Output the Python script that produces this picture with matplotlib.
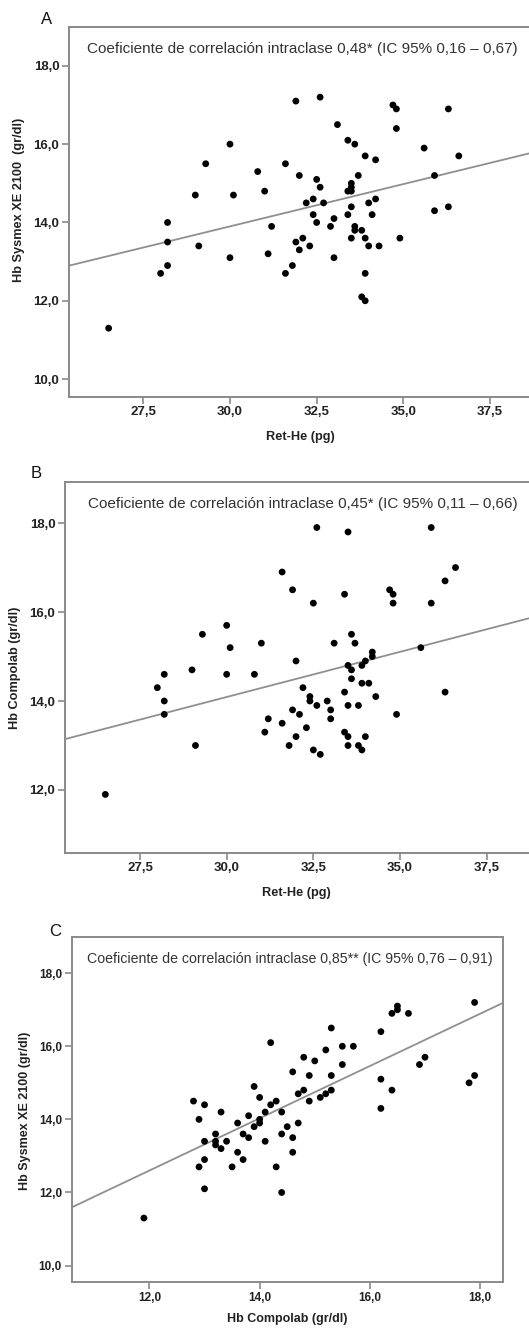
import numpy as np
import matplotlib
matplotlib.use("Agg")
import matplotlib.pyplot as plt
from matplotlib.ticker import FixedLocator, FuncFormatter

plt.rcParams['font.family'] = ['Liberation Sans', 'DejaVu Sans']

# ---------------- data ----------------
# Panel A: Ret-He (pg) vs Hb Sysmex XE 2100 (gr/dl)
retA = [31.9, 32.6, 33.1, 34.7, 34.8, 34.8, 36.3, 30.0, 33.4, 33.6,
        35.6, 33.9, 34.2, 36.6, 29.3, 31.6, 30.8, 32.0, 35.9, 33.7,
        32.5, 32.6, 33.5, 33.5, 33.4, 33.5, 29.0, 30.1, 31.0, 32.2,
        32.4, 32.7, 33.5, 34.0, 34.2, 35.9, 36.3, 32.4, 33.0, 33.4,
        34.1, 28.2, 32.5, 32.9, 33.6, 33.6, 33.8, 33.5, 33.9, 34.0,
        34.3, 34.9, 31.2, 32.1, 31.9, 32.0, 32.3, 31.1, 33.0, 31.6,
        31.8, 33.9, 33.8, 33.9, 30.0, 29.1, 28.2, 28.2, 28.0, 26.5]
hbSysA = [17.1, 17.2, 16.5, 17.0, 16.9, 16.4, 16.9, 16.0, 16.1, 16.0,
          15.9, 15.7, 15.6, 15.7, 15.5, 15.5, 15.3, 15.2, 15.2, 15.2,
          15.1, 14.9, 15.0, 14.9, 14.8, 14.8, 14.7, 14.7, 14.8, 14.5,
          14.6, 14.5, 14.4, 14.5, 14.6, 14.3, 14.4, 14.2, 14.1, 14.2,
          14.2, 14.0, 14.0, 13.9, 13.9, 13.8, 13.8, 13.6, 13.6, 13.4,
          13.4, 13.6, 13.9, 13.6, 13.5, 13.3, 13.4, 13.2, 13.1, 12.7,
          12.9, 12.7, 12.1, 12.0, 13.1, 13.4, 13.5, 12.9, 12.7, 11.3]

# Panel B: Ret-He (pg) vs Hb Compolab (gr/dl)
retB = [32.6, 33.5, 35.9, 36.6, 36.3, 31.6, 31.9, 33.4, 32.5, 34.7,
        34.8, 34.8, 35.9, 30.0, 29.3, 30.1, 31.0, 33.1, 33.6, 33.7,
        35.6, 34.2, 34.2, 34.0, 33.9, 32.0, 33.5, 33.6, 33.6, 28.2,
        29.0, 30.0, 30.8, 33.9, 34.1, 34.3, 33.4, 33.5, 33.8, 36.3,
        34.9, 28.0, 28.2, 28.2, 29.1, 32.2, 32.4, 32.4, 32.6, 32.9,
        33.0, 33.0, 31.9, 32.1, 31.2, 31.6, 31.1, 32.3, 32.0, 31.8,
        32.5, 32.7, 33.4, 33.5, 33.5, 33.8, 33.9, 34.0, 26.5]
hbCompB = [17.9, 17.8, 17.9, 17.0, 16.7, 16.9, 16.5, 16.4, 16.2, 16.5,
           16.4, 16.2, 16.2, 15.7, 15.5, 15.2, 15.3, 15.3, 15.5, 15.3,
           15.2, 15.1, 15.0, 14.9, 14.8, 14.9, 14.8, 14.7, 14.5, 14.6,
           14.7, 14.6, 14.6, 14.4, 14.4, 14.1, 14.2, 13.9, 13.9, 14.2,
           13.7, 14.3, 14.0, 13.7, 13.0, 14.3, 14.1, 14.0, 13.9, 14.0,
           13.8, 13.6, 13.8, 13.7, 13.6, 13.5, 13.3, 13.4, 13.2, 13.0,
           12.9, 12.8, 13.3, 13.2, 13.0, 13.0, 12.9, 13.2, 11.9]

# Panel C: Hb Compolab (gr/dl) vs Hb Sysmex XE 2100 (gr/dl)
hbCompC = [17.9, 16.4, 16.5, 16.5, 16.7, 15.3, 16.2, 14.2, 15.2, 15.5,
           15.7, 14.8, 15.0, 15.5, 16.9, 17.0, 14.6, 14.9, 15.3, 16.2,
           17.9, 17.8, 16.4, 16.2, 14.7, 14.8, 14.9, 15.1, 15.2, 15.3,
           13.9, 14.0, 14.2, 14.3, 14.4, 14.1, 12.8, 13.0, 13.3, 13.8,
           12.9, 14.0, 14.0, 13.6, 13.9, 14.5, 14.7, 13.2, 13.2, 13.2,
           13.0, 13.4, 13.3, 13.7, 13.8, 14.1, 14.4, 14.6, 13.6, 14.6,
           13.0, 13.7, 12.9, 13.5, 14.3, 13.0, 14.4, 11.9]
hbSysC = [17.2, 16.9, 17.1, 17.0, 16.9, 16.5, 16.4, 16.1, 15.9, 16.0,
          16.0, 15.7, 15.6, 15.5, 15.5, 15.7, 15.3, 15.2, 15.2, 15.1,
          15.2, 15.0, 14.8, 14.3, 14.7, 14.8, 14.5, 14.6, 14.7, 14.8,
          14.9, 14.6, 14.4, 14.5, 14.2, 14.2, 14.5, 14.4, 14.2, 14.1,
          14.0, 14.0, 13.9, 13.9, 13.8, 13.8, 13.9, 13.6, 13.4, 13.3,
          13.4, 13.4, 13.2, 13.6, 13.5, 13.4, 13.6, 13.5, 13.1, 13.1,
          12.9, 12.9, 12.7, 12.7, 12.7, 12.1, 12.0, 11.3]

# fit lines (slope, intercept) as drawn in the picture
fitA = (0.216, 7.42)
fitB = (0.203, 8.00)
fitC = (0.715, 4.02)

ret_ticks = [27.5, 30.0, 32.5, 35.0, 37.5]
hb_ticksA = [10.0, 12.0, 14.0, 16.0, 18.0]
hb_ticksB = [12.0, 14.0, 16.0, 18.0]
comp_ticksC = [12.0, 14.0, 16.0, 18.0]

titleA = "Coeficiente de correlación intraclase 0,48* (IC 95% 0,16 – 0,67)"
titleB = "Coeficiente de correlación intraclase 0,45* (IC 95% 0,11 – 0,66)"
titleC = "Coeficiente de correlación intraclase 0,85** (IC 95% 0,76 – 0,91)"

# ---------------- layout ----------------
W, H = 529, 1328
fig = plt.figure(figsize=(W / 100, H / 100), dpi=100)
fig.patch.set_facecolor('white')

SPINE = '#8a8a8a'
TXT = '#222222'
comma = FuncFormatter(lambda v, p: f"{v:.1f}".replace('.', ','))


def px_axes(left, top, right, bottom):
    return fig.add_axes([left / W, 1 - bottom / H, (right - left) / W, (bottom - top) / H])


def style(ax, xt, yt, fs):
    for s in ax.spines.values():
        s.set_color(SPINE)
        s.set_linewidth(1.4)
    ax.xaxis.set_major_locator(FixedLocator(xt))
    ax.yaxis.set_major_locator(FixedLocator(yt))
    ax.xaxis.set_major_formatter(comma)
    ax.yaxis.set_major_formatter(comma)
    ax.tick_params(axis='both', direction='out', length=5, width=1.2, color=SPINE,
                   labelsize=fs, labelcolor=TXT, pad=2)
    for lab in ax.get_xticklabels() + ax.get_yticklabels():
        lab.set_fontweight('bold')


def panel(ax, x, y, fit, xlim, ylim):
    ax.set_xlim(*xlim)
    ax.set_ylim(*ylim)
    ax.axline((0, fit[1]), slope=fit[0], color='#8f8f8f', lw=1.3, zorder=2)
    ax.scatter(x, y, s=24, color='black', edgecolors='none', zorder=3)


def px2data(p, p0, v0, scale):
    return v0 + (p - p0) / scale


# Panel A
axA = px_axes(69, 26.7, 560, 396.7)
panel(axA, retA, hbSysA, fitA,
      (px2data(69, 143.3, 27.5, 34.67), px2data(560, 143.3, 27.5, 34.67)),
      (9.55, 19.0))
style(axA, ret_ticks, hb_ticksA, 9.5)
fig.text(87 / W, 1 - 49.3 / H, titleA, fontsize=11, color='#333333', va='center', ha='left')
fig.text(300 / W, 1 - 437 / H, "Ret-He (pg)", fontsize=9.2, fontweight='bold', color=TXT,
         ha='center', va='center')
fig.text(19 / W, 1 - 200 / H, "Hb Sysmex XE 2100  (gr/dl)", fontsize=9.2, fontweight='bold',
         color=TXT, rotation=90, ha='center', va='center')
fig.text(41 / W, 1 - 19 / H, "A", fontsize=12, color='#111111', ha='left', va='center')

# Panel B
axB = px_axes(65, 481.7, 560, 852.7)
panel(axB, retB, hbCompB, fitB,
      (px2data(65, 140, 27.5, 34.67), px2data(560, 140, 27.5, 34.67)),
      (10.59, 18.93))
style(axB, ret_ticks, hb_ticksB, 9.5)
fig.text(88 / W, 1 - 504.3 / H, titleB, fontsize=11, color='#333333', va='center', ha='left')
fig.text(296.7 / W, 1 - 893.3 / H, "Ret-He (pg)", fontsize=9.2, fontweight='bold', color=TXT,
         ha='center', va='center')
fig.text(15 / W, 1 - 668 / H, "Hb Compolab (gr/dl)", fontsize=9.2, fontweight='bold',
         color=TXT, rotation=90, ha='center', va='center')
fig.text(31 / W, 1 - 473 / H, "B", fontsize=12, color='#111111', ha='left', va='center')

# Panel C
axC = px_axes(71.7, 937, 502.7, 1282)
panel(axC, hbCompC, hbSysC, fitC, (10.59, 18.41), (9.55, 18.99))
style(axC, comp_ticksC, hb_ticksA, 8.5)
fig.text(87 / W, 1 - 959.3 / H, titleC, fontsize=10.2, color='#333333', va='center', ha='left')
fig.text(287 / W, 1 - 1319 / H, "Hb Compolab (gr/dl)", fontsize=9, fontweight='bold', color=TXT,
         ha='center', va='center')
fig.text(25 / W, 1 - 1111 / H, "Hb Sysmex XE 2100 (gr/dl)", fontsize=9, fontweight='bold',
         color=TXT, rotation=90, ha='center', va='center')
fig.text(49 / W, 1 - 932 / H, "C", fontsize=12, color='#111111', ha='left', va='center')

fig.savefig("out.png", dpi=100)
